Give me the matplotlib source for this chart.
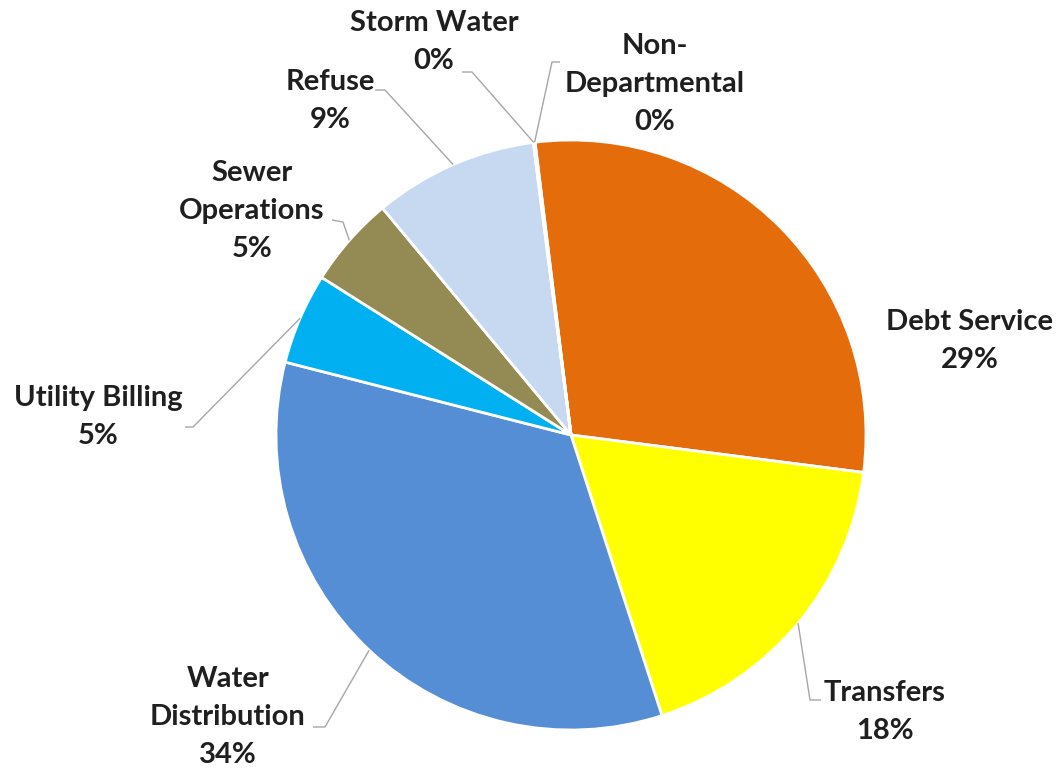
import matplotlib
matplotlib.use("Agg")
import matplotlib.pyplot as plt
import numpy as np

# data (clockwise from top)
names = ["Debt Service", "Transfers", "Water\nDistribution", "Utility Billing",
         "Sewer\nOperations", "Refuse", "Storm Water", "Non-\nDepartmental"]
values = [29, 18, 34, 5, 5, 9, 0.05, 0.05]
pct_labels = ["29%", "18%", "34%", "5%", "5%", "9%", "0%", "0%"]
colors = ["#E46C0A", "#FFFF00", "#558ED5", "#00B0F0", "#948A54", "#C6D9F1",
          "#4F81BD", "#C0504D"]

W, H = 1056, 768
CX, CY, R = 571, 435, 295


def px(x, y):
    # pixel position -> data coords (pie radius = 1)
    return (x - CX) / R, (CY - y) / R


plt.rcParams['font.family'] = ['Lato', 'DejaVu Sans']

fig = plt.figure(figsize=(W / 100, H / 100), dpi=100)
ax = fig.add_axes([0, 0, 1, 1])
wedges, _ = ax.pie(values, colors=colors, startangle=97, counterclock=False,
                   radius=1, wedgeprops=dict(edgecolor="white", linewidth=2))
ax.set_xlim(-CX / R, (W - CX) / R)
ax.set_ylim(-(H - CY) / R, CY / R)
ax.axis("off")

# label centres and leader line ends (pixels): text, elbow, end
layout = [
    ((970, 341), None, None),
    ((885, 712), (810, 700), (821, 700)),
    ((228, 717), (325, 727), (313, 727)),
    ((98, 417), (193, 427), (185, 427)),
    ((252, 211), (343, 222), (332, 220)),
    ((330, 101), (385, 90), (375, 90)),
    ((434, 42), (472, 72), (462, 72)),
    ((655, 84), (552, 62), (560, 62)),
]

for w, name, pct, (tpos, elbow, end) in zip(wedges, names, pct_labels, layout):
    ang = np.deg2rad((w.theta1 + w.theta2) / 2)
    ax_, ay_ = w.r * np.cos(ang), w.r * np.sin(ang)
    if elbow is not None:
        ex, ey = px(*elbow)
        nx, ny = px(*end)
        ax.plot([ax_, ex, nx], [ay_, ey, ny], color="#A6A6A6", lw=1,
                solid_capstyle="butt")
    tx, ty = px(*tpos)
    ax.text(tx, ty, name + "\n" + pct, ha="center", va="center",
            multialignment="center", fontsize=21, fontweight="bold",
            color="#1F1F1F", linespacing=1.55)

fig.savefig("out.png", dpi=100)
